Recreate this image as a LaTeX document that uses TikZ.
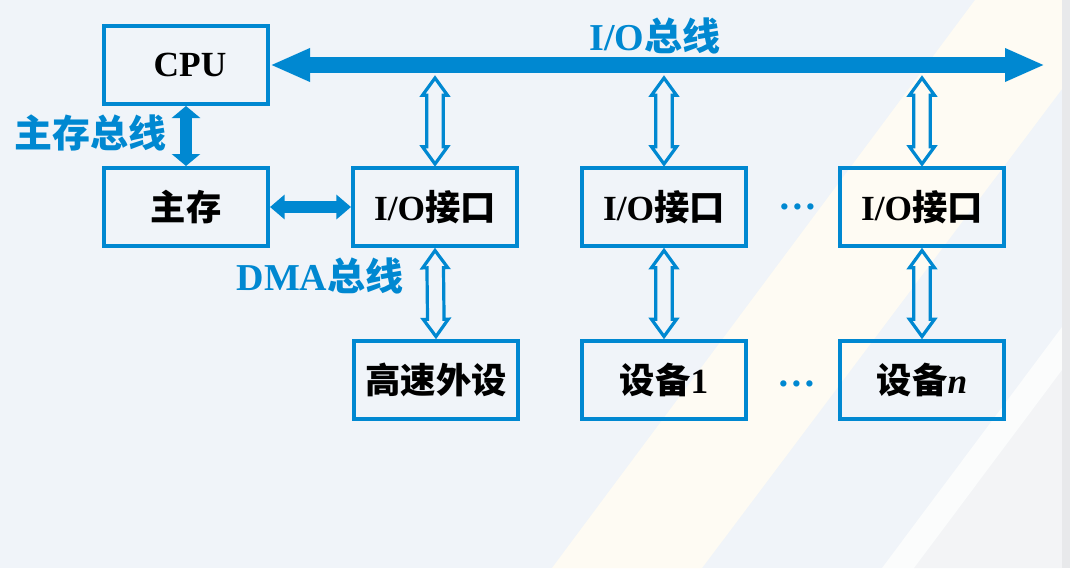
\documentclass[tikz,border=0pt]{standalone}
\usepackage{fontspec}
\setmainfont{Liberation Serif}
\newfontfamily\cjk{Noto Sans CJK SC}
\usepackage{tikz}
\usetikzlibrary{positioning}
\usetikzlibrary{arrows.meta,shapes.arrows}
\definecolor{busblue}{RGB}{0,136,209}
\definecolor{pagebg}{RGB}{240,244,249}
\definecolor{bandcream}{RGB}{254,251,243}
\definecolor{bandgray}{RGB}{243,244,246}
\definecolor{bandlight}{RGB}{251,252,252}
\definecolor{edgegray}{RGB}{232,233,235}
\newcommand{\zh}[1]{{\cjk\bfseries #1}}
\tikzset{
  unitbox/.style = {draw=busblue, line width=3pt, minimum width=123pt,
    minimum height=58.5pt, inner sep=0pt,
    font=\fontsize{26.5}{30}\selectfont\bfseries},
  buslabel/.style = {text=busblue, inner sep=0pt,
    font=\fontsize{28.5}{30}\selectfont\bfseries},
  moredots/.style = {text=busblue, inner sep=0pt,
    font=\fontsize{29}{30}\selectfont\bfseries},
  hollow/.style = {double arrow, draw=busblue, line width=2.4pt, sloped,
    minimum height=64.5pt, inner sep=5pt, double arrow head extend=3.2pt,
    double arrow tip angle=72},% hollow two-way arrow
  iobus/.style = {busblue, line width=12pt,
    {Triangle[length=30pt,width=23pt]}-{Triangle[length=30pt,width=23pt]}},
  membus/.style = {busblue, line width=9.5pt,
    {Triangle[length=9pt,width=21pt]}-{Triangle[length=9pt,width=21pt]}},
  dmabus/.style = {busblue, line width=8.5pt,
    {Triangle[length=11pt,width=18pt]}-{Triangle[length=11pt,width=18pt]}}
}

\begin{document}
\begin{tikzpicture}[x=0.75pt,y=-0.75pt]
% background
\fill[pagebg] (0,0) rectangle (1070,568);
\fill[bandcream] (975,0) -- (1062,0) -- (1062,89) -- (702,568) -- (552,568) -- cycle;
\fill[bandgray] (1062,370) -- (1062,568) -- (914,568) -- cycle;
\fill[bandlight] (1062,327) -- (1062,370) -- (914,568) -- (882,568) -- cycle;
\fill[edgegray] (1062,0) rectangle (1070,568);

% boxes
\node[unitbox] (cpu) at (186,65) {\hspace{6pt}CPU};
\node[unitbox] (mem) at (186,207) {\zh{主存}\hspace{12pt}};
\node[unitbox] (io1) at (435,207) {I/O\zh{接口}};
\node[unitbox] (io2) at (664,207) {I/O\zh{接口}};
\node[unitbox] (io3) at (922,207) {I/O\zh{接口}};
\node[unitbox] (fast) at (436,380) {\zh{高速外设}};
\node[unitbox] (dev1) at (664,380) {\zh{设备}1};
\node[unitbox] (devn) at (922,380) {\zh{设备}\textit{n}};
\node[moredots] (dots1) at (798,207) {\dots};
\node[moredots] (dots2) at (797,384) {\dots};

% buses
\coordinate (busend) at (1045,65);
\draw[iobus] (cpu.east) -- (busend);
\draw[membus] (cpu.south) -- (mem.north);
\draw[dmabus] (mem.east) -- (io1.west);
\foreach \u in {io1,io2,io3}
  \coordinate (tap-\u) at (\u.north |- 0,76);
\foreach \u/\d in {io1/fast,io2/dev1,io3/devn}{
  \path (tap-\u) -- (\u.north) node[midway,hollow] {};
  \path (\u.south) -- (\d.north) node[midway,hollow] {};
}

% labels
\node[buslabel] (iolabel) at (655,36) {I/O\zh{总线}};
\node[buslabel] (memlabel) at (90,133) {\zh{主存总线}};
\node[buslabel] (dmalabel) at (320,276) {DMA\zh{总线}};
\end{tikzpicture}
\end{document}
